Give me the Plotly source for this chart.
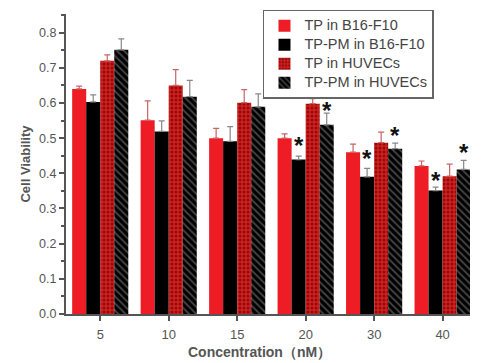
import plotly.graph_objects as go

categories = ["5", "10", "15", "20", "30", "40"]

tp_b16 = [0.64, 0.551, 0.50, 0.50, 0.46, 0.421]
tp_b16_err = [0.008, 0.055, 0.028, 0.012, 0.023, 0.014]
tppm_b16 = [0.603, 0.519, 0.491, 0.439, 0.39, 0.351]
tppm_b16_err = [0.02, 0.03, 0.042, 0.01, 0.024, 0.01]
tp_huv = [0.72, 0.65, 0.601, 0.598, 0.487, 0.392]
tp_huv_err = [0.017, 0.045, 0.037, 0.014, 0.03, 0.034]
tppm_huv = [0.751, 0.618, 0.589, 0.538, 0.47, 0.411]
tppm_huv_err = [0.031, 0.046, 0.037, 0.033, 0.016, 0.026]

# significance marks: category index, series index, height of the asterisk
star_cat = [3, 3, 4, 4, 5, 5]
star_series = [1, 3, 1, 3, 1, 3]
star_height = [0.49, 0.59, 0.453, 0.52, 0.39, 0.47]

series = [
    dict(name="TP in B16-F10", y=tp_b16, e=tp_b16_err, color="#ee1c24",
         pattern=None, ecol="#c86464"),
    dict(name="TP-PM in B16-F10", y=tppm_b16, e=tppm_b16_err, color="#000000",
         pattern=None, ecol="#888888"),
    dict(name="TP in HUVECs", y=tp_huv, e=tp_huv_err, color="#d81e1e",
         pattern=dict(shape=".", fgcolor="#3a0000", bgcolor="#d81e1e", size=4, solidity=0.45,
                      fillmode="overlay"),
         ecol="#c86464"),
    dict(name="TP-PM in HUVECs", y=tppm_huv, e=tppm_huv_err, color="#000000",
         pattern=dict(shape="\\", fgcolor="#8a8a8a", bgcolor="#000000", size=5, solidity=0.35,
                      fillmode="overlay"),
         ecol="#888888"),
]

fig = go.Figure()
for s in series:
    marker = dict(color=s["color"], line=dict(width=0))
    if s["pattern"]:
        marker["pattern"] = s["pattern"]
    fig.add_trace(go.Bar(
        x=categories, y=s["y"],
        name='<span style="font-size:14.5px">' + s["name"] + '</span>',
        marker=marker,
        error_y=dict(type="data", array=s["e"], arrayminus=[0] * len(s["e"]),
                     symmetric=False, color=s["ecol"], thickness=1.2, width=3),
    ))

bargap = 0.18
bw = (1 - bargap) / 4
for ci, si, sy in zip(star_cat, star_series, star_height):
    xoff = (si - 1.5) * bw
    fig.add_annotation(x=ci + xoff, y=sy,
                       xref="x", yref="y", text="<b>*</b>", showarrow=False,
                       font=dict(size=24, color="#111", family="Arial"),
                       yanchor="middle", yshift=-4)

# x-axis title (placed as annotation to match its slightly left-of-centre position)
fig.add_annotation(x=0.48, y=-0.128, xref="paper", yref="paper",
                   text="<b>Concentration（nM）</b>", showarrow=False,
                   font=dict(size=14, color="#555", family="Arial"),
                   xanchor="center", yanchor="middle")

fig.update_layout(
    width=500, height=363,
    margin=dict(l=58, r=38, t=2, b=57),
    paper_bgcolor="white", plot_bgcolor="white",
    barmode="group", bargap=bargap, bargroupgap=0,
    font=dict(family="Arial", color="#555"),
    showlegend=True,
    legend=dict(x=0.4876, y=1.014, xanchor="left", yanchor="top",
                bgcolor="white", bordercolor="#666", borderwidth=1.5,
                font=dict(size=12, color="#444", family="Arial"),
                tracegroupgap=0, itemwidth=30),
)
fig.update_xaxes(
    type="category", range=[-0.5, 5.4],
    showline=True, linecolor="#555", linewidth=2,
    ticks="outside", ticklen=5, tickwidth=1.5, tickcolor="#555",
    tickfont=dict(size=13, color="#555"), ticklabelstandoff=2,
    showgrid=False, zeroline=False,
)
fig.update_yaxes(
    range=[0, 0.853], tickmode="array",
    tickvals=[0, 0.1, 0.2, 0.3, 0.4, 0.5, 0.6, 0.7, 0.8],
    ticktext=["0.0", "0.1", "0.2", "0.3", "0.4", "0.5", "0.6", "0.7", "0.8"],
    showline=True, linecolor="#555", linewidth=2,
    ticks="outside", ticklen=5, tickwidth=1.5, tickcolor="#555",
    tickfont=dict(size=12.5, color="#555"),
    minor=dict(dtick=0.05, ticks="outside", ticklen=3, tickcolor="#555", tick0=0),
    title=dict(text="<b>Cell Viability</b>", font=dict(size=13, color="#555"), standoff=6),
    showgrid=False, zeroline=False,
)

fig.write_html("out.html")
